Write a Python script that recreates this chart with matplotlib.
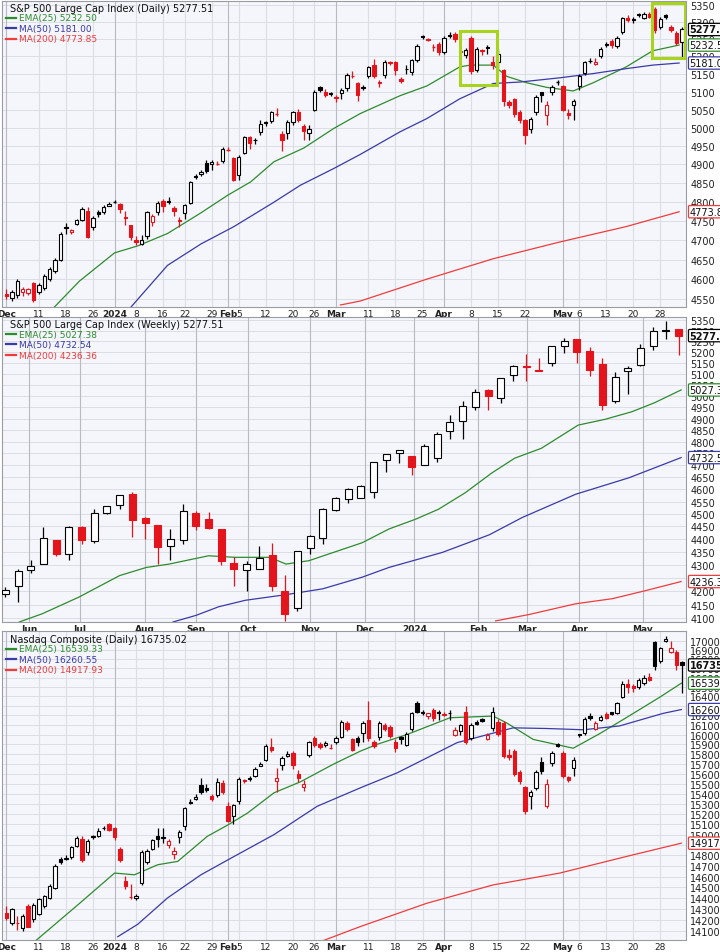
import matplotlib
matplotlib.use("Agg")
import matplotlib.pyplot as plt
import matplotlib.patches as mpatches
import numpy as np

# ---------------- S&P 500 daily (Dec 2023 - May 2024) ----------------
spx_o = [4562,4552,4560,4568,4566,4590,4567,4577,4600,4620,4650,4733,4722,4742,4753,4777,4733,4772,4772,4790,
         4800,4794,4760,4738,4700,4690,4710,4748,4772,4803,4803,4783,4752,4771,4798,4868,4873,4903,4900,4903,
         4908,4940,4917,4872,4930,4973,4967,4987,5015,5018,5040,4982,4985,5016,5044,5005,4984,5050,5112,5100,
         5096,5084,5096,5110,5145,5123,5113,5143,5175,5125,5148,5184,5184,5136,5165,5155,5190,5259,5250,5228,
         5236,5213,5261,5264,5212,5203,5252,5160,5218,5226,5185,5185,5160,5072,5080,5043,5021,4997,5043,5098,
         5035,5098,5128,5116,5040,5062,5115,5152,5188,5178,5200,5236,5245,5230,5270,5311,5308,5322,5312,5322,
         5338,5285,5320,5285,5266,5242]
spx_c = [4558,4567,4595,4575,4574,4547,4585,4608,4626,4650,4717,4731,4726,4751,4781,4708,4758,4769,4787,4795,
         4799,4780,4758,4708,4695,4700,4773,4763,4797,4790,4800,4775,4750,4791,4853,4866,4880,4882,4906,4902,
         4942,4939,4858,4921,4973,4958,4965,5009,5012,5042,5039,4967,5015,5044,5021,4991,4996,5100,5105,5090,
         5093,5082,5105,5148,5143,5091,5111,5169,5143,5128,5184,5180,5161,5131,5163,5189,5231,5255,5246,5227,
         5212,5254,5259,5250,5216,5218,5157,5220,5215,5224,5175,5207,5075,5062,5039,5021,4980,5025,5084,5090,
         5062,5114,5127,5048,5034,5075,5143,5184,5186,5184,5220,5234,5232,5252,5311,5305,5306,5320,5324,5315,
         5275,5307,5314,5275,5238,5277.51]
spx_h = [4575,4572,4600,4580,4578,4592,4590,4612,4630,4655,4720,4745,4730,4754,4786,4785,4762,4778,4792,4800,
         4806,4796,4775,4740,4710,4712,4776,4768,4802,4808,4812,4790,4760,4795,4855,4875,4884,4912,4911,4910,
         4946,4947,4920,4926,4978,4976,4972,5022,5018,5045,5053,4990,5022,5047,5052,5010,5008,5105,5115,5108,
         5100,5090,5110,5152,5157,5127,5118,5172,5192,5132,5190,5186,5188,5140,5175,5192,5235,5262,5252,5235,
         5240,5258,5270,5270,5225,5225,5258,5228,5222,5232,5200,5220,5165,5076,5082,5048,5025,5030,5090,5100,
         5075,5120,5133,5120,5052,5080,5150,5188,5195,5195,5228,5242,5250,5260,5315,5320,5315,5325,5328,5328,
         5343,5313,5323,5290,5272,5285]
spx_l = [4550,4545,4552,4558,4560,4543,4562,4572,4595,4615,4645,4715,4715,4738,4750,4705,4725,4760,4768,4788,
         4796,4770,4740,4700,4688,4688,4702,4737,4765,4772,4793,4763,4735,4755,4795,4860,4868,4877,4885,4898,
         4904,4935,4855,4858,4927,4942,4955,4980,5005,5012,5033,4935,4970,5006,5016,4965,4967,5045,5100,5085,
         5088,5072,5080,5103,5138,5075,5104,5138,5138,5112,5138,5175,5148,5125,5150,5148,5185,5250,5243,5215,
         5205,5208,5252,5240,5205,5195,5150,5155,5205,5208,5165,5168,5060,5055,5030,5012,4955,4985,5035,5070,
         5008,5090,5120,5045,5025,5020,5105,5148,5180,5175,5195,5228,5225,5225,5265,5298,5296,5315,5308,5310,
         5268,5280,5308,5270,5232,5198]
spx_ema_x = [8.3,13.5,20,24.3,29.8,36,40.9,45.2,49.5,55,60.6,65.5,72.9,77.8,83.9,85.8,90.1,92.6,96.3,100,104.9,108.6,114.7,119.6,124.5]
spx_ema_y = [4522,4595,4667,4685,4717,4771,4817,4853,4907,4944,4998,5039,5089,5116,5170,5175,5175,5143,5125,5112,5102,5125,5170,5216,5232.5]
spx_ma50_x = [22.4,29.8,36,42.1,49.5,54.4,60.6,65.5,72.9,77.8,83.9,90.1,95,102.4,108.6,114.7,119.6,124.5]
spx_ma50_y = [4520,4635,4690,4735,4799,4844,4889,4927,4989,5025,5080,5123,5127,5139,5151,5165,5175,5181]
spx_ma200_x = [61.8,65.5,77.8,90.1,102.4,114.7,124.5]
spx_ma200_y = [4535,4545,4600,4652,4695,4735,4773.85]

# ---------------- S&P 500 weekly (May 2023 - May 2024) ----------------
wk_o = [4190,4221,4280,4303,4396,4340,4446,4392,4505,4538,4582,4485,4456,4375,4396,4505,4479,4440,4306,4281,
        4285,4338,4202,4137,4364,4403,4516,4560,4565,4590,4722,4752,4738,4700,4731,4845,4889,4953,5025,4992,
        5095,5138,5118,5151,5228,5260,5207,5146,4979,5112,5142,5228,5303,5311]
wk_c = [4205,4278,4297,4406,4342,4446,4396,4503,4532,4577,4476,4462,4368,4400,4512,4453,4444,4316,4285,4303,
        4325,4221,4117,4355,4411,4520,4563,4601,4614,4713,4749,4766,4694,4780,4833,4885,4954,5020,5000,5082,
        5138,5130,5112,5229,5250,5200,5117,4960,5088,5128,5218,5299,5301,5277.51]
wk_h = [4215,4285,4320,4446,4396,4452,4452,4520,4532,4565,4590,4488,4445,4440,4540,4510,4507,4420,4330,4315,
        4372,4385,4260,4330,4416,4525,4570,4605,4620,4700,4730,4750,4720,4790,4840,4915,4980,5030,5030,5060,
        5140,5190,5175,5210,5265,5260,5225,5172,5110,5135,5240,5320,5345,5310]
wk_l = [4180,4160,4270,4303,4336,4320,4380,4386,4500,4522,4410,4400,4305,4320,4380,4435,4440,4300,4220,4202,
        4285,4202,4090,4128,4340,4380,4513,4545,4565,4565,4670,4710,4660,4700,4715,4810,4810,4940,4938,4968,
        5068,5068,5112,5136,5197,5152,5090,4940,4968,5010,5136,5210,5260,5186]
wk_ema_x = [1.1,2.9,5.8,9,11.1,12.9,16,18.1,20.8,22.1,23.9,28.1,30.2,32.3,34.1,36.2,38.3,40.1,42.2,45.1,47.2,49.3,51.1,53.2]
wk_ema_y = [4086,4116,4178,4259,4290,4303,4335,4329,4329,4303,4316,4386,4440,4479,4519,4586,4668,4730,4772,4872,4897,4930,4970,5027.38]
wk_ma50_x = [13.2,15,16.8,18.9,22.1,25,28.1,30.2,34.4,38.1,40.7,44.9,49.1,53.2]
wk_ma50_y = [4086,4110,4142,4166,4187,4209,4253,4290,4348,4417,4486,4580,4648,4732.54]
wk_ma200_x = [38.6,41.2,44.9,47.8,50.4,53.2]
wk_ma200_y = [4090,4113,4153,4172,4202,4236.36]

# ---------------- Nasdaq Composite daily ----------------
ndx_o = [14258,14170,14172,14122,14324,14210,14250,14330,14400,14490,14765,14770,14790,14890,14955,14830,14985,14990,15062,15100,
         15060,14860,14560,14412,14400,14540,14740,14860,14990,14975,14900,14810,14980,15080,15320,15350,15490,15460,15380,15390,
         15510,15280,15180,15330,15540,15560,15580,15680,15740,15870,15525,15690,15780,15810,15600,15470,15790,15970,15900,15890,
         15865,15920,15980,16120,15950,15960,16020,16150,15920,15980,16100,16080,15920,15980,15890,16060,16330,16220,16190,16260,
         16240,16212,16223,16000,16040,16230,15960,16130,16160,15950,16070,16130,16120,15790,15830,15615,15470,15375,15460,15720,
         15280,15710,15900,15810,15570,15660,16010,16020,16190,16060,16150,16215,16230,16220,16390,16530,16510,16500,16540,16610,
         16980,16780,16990,16880,16880,16770]
ndx_c = [14215,14296,14170,14230,14137,14335,14390,14415,14510,14700,14735,14780,14880,14970,14760,14940,14980,15040,15060,15050,
         14980,14760,14510,14410,14420,14830,14840,14950,14960,14970,14935,14845,15030,15260,15310,15370,15420,15440,15350,15520,
         15420,15130,15290,15550,15525,15545,15650,15700,15880,15840,15560,15760,15800,15690,15560,15500,15920,15890,15870,15910,
         15860,15960,16130,16060,15840,15920,16120,15960,15880,16120,16060,15990,15860,15950,16010,16220,16230,16240,16220,16170,
         16225,16208,16220,16050,16100,15920,16100,16110,16140,16000,16240,16010,15780,15770,15600,15530,15230,15420,15615,15630,
         15500,15810,15880,15580,15540,15740,15995,16160,16170,16120,16180,16175,16215,16330,16530,16500,16490,16570,16600,16570,
         16720,16915,17020,16920,16730,16735.02]
ndx_h = [14330,14310,14230,14250,14340,14350,14400,14430,14530,14720,14790,14800,14895,14985,14990,14960,15000,15060,15085,15110,
         15070,14880,14610,14530,14440,14850,14860,14960,15060,15060,14960,14880,15050,15270,15350,15400,15560,15500,15400,15560,
         15540,15320,15300,15570,15550,15575,15670,15720,15900,15970,15660,15780,15830,15830,15640,15540,15930,15990,15920,15930,
         15900,15990,16150,16140,15960,15990,16140,16350,15940,16140,16120,16100,15950,15990,16030,16240,16350,16260,16210,16280,
         16260,16240,16260,16080,16110,16300,16120,16150,16170,16020,16290,16160,16140,15850,15850,15640,15480,15440,15640,15770,
         15550,15830,15910,15830,15580,15770,16010,16180,16220,16140,16200,16240,16240,16340,16560,16580,16530,16590,16630,16650,
         17000,16930,17050,17000,16900,16780]
ndx_l = [14200,14150,14110,14100,14130,14180,14240,14310,14390,14480,14720,14760,14770,14880,14740,14800,14960,14980,15050,15040,
         14950,14740,14480,14390,14380,14520,14720,14850,14880,14920,14870,14770,14920,15050,15300,15340,15400,15420,15330,15370,
         15400,15120,15100,15300,15510,15530,15570,15680,15730,15820,15420,15640,15770,15650,15520,15430,15770,15870,15850,15870,
         15850,15900,15960,16040,15830,15880,15920,15930,15860,15940,16040,15960,15820,15900,15880,16040,16220,16200,16160,16140,
         16150,16190,16150,15990,16000,15900,15940,16100,16130,15940,16040,15990,15760,15740,15580,15500,15200,15250,15440,15600,
         15260,15680,15870,15560,15520,15580,15980,16000,16150,16050,16140,16160,16205,16210,16380,16430,16450,16480,16520,16560,
         16680,16760,16980,16860,16680,16440]
ndx_ema_x = [5.2,13.2,20,23.7,28,31.7,37.2,41,44.6,49.5,54.4,60.6,65.5,68.6,74.1,82.1,90.1,92.6,97.5,104.9,109.8,114.7,120.9,124.9]
ndx_ema_y = [14000,14336,14633,14617,14712,14744,14985,15095,15210,15410,15520,15700,15830,15900,16000,16175,16192,16120,15950,15860,16010,16175,16390,16539.33]
ndx_ma50_x = [20.6,24.3,29.8,36,42.1,49.5,57.5,65.5,72.3,83.4,93.8,100,106.8,113.5,121.5,124.9]
ndx_ma50_y = [14045,14158,14400,14617,14790,15000,15277,15460,15610,15917,16070,16063,16050,16090,16220,16260.55]
ndx_ma200_x = [58.1,65.5,77.8,90.1,102.4,114.7,124.9]
ndx_ma200_y = [14000,14137,14351,14522,14633,14790,14917.93]

# ---------------- axis labels ----------------
day_tick_idx = [0,6,11,16,20,24,29,33,38,41,43,48,53,57,61,67,72,77,81,86,91,96,103,106,111,116,121]
day_tick_lab = ["Dec","11","18","26","2024","8","16","22","29","Feb","5","12","20","26","Mar","11","18","25",
                "Apr","8","15","22","May","6","13","20","28"]
wk_tick_idx = [1.9,5.9,11,15,19.1,24,28.3,32.2,37.2,41.1,45.2,50.2]
wk_tick_lab = ["Jun","Jul","Aug","Sep","Oct","Nov","Dec","2024","Feb","Mar","Apr","May"]
months = {"Dec","2024","Feb","Mar","Apr","May","Jun","Jul","Aug","Sep","Oct","Nov"}

RED = "#e3141b"
GREEN = "#2e8b2e"
BLUE = "#3a3aa8"
MARED = "#f03c3c"
BG = "#f4f6fb"
GRID = "#dcdee6"
NARROW = ['Liberation Sans Narrow', 'DejaVu Sans']

plt.rcParams['font.family'] = ['DejaVu Sans']
fig = plt.figure(figsize=(7.2, 9.53), dpi=100)


def candles(ax, o, h, l, c, width):
    x = np.arange(len(c))
    for i in x:
        prev = c[i - 1] if i > 0 else o[i]
        col = "black" if c[i] >= prev else RED
        hollow = c[i] > o[i]
        ax.vlines(i, l[i], h[i], color=col, lw=0.9, zorder=3)
        lo, hi = min(o[i], c[i]), max(o[i], c[i])
        if hi - lo < 1.5:
            ax.hlines(c[i], i - width / 2, i + width / 2, color=col, lw=1.0, zorder=4)
        else:
            ax.bar(i, hi - lo, bottom=lo, width=width, facecolor="white" if hollow else col,
                   edgecolor=col, lw=0.8, zorder=4)


def style(ax, yticks, ylim, xlim, ticks_idx, ticks_lab):
    ax.set_facecolor(BG)
    ax.set_yscale("log")
    ax.set_ylim(*ylim)
    ax.set_xlim(*xlim)
    ax.yaxis.tick_right()
    ax.set_yticks(yticks)
    ax.set_yticklabels([str(v) for v in yticks], fontsize=7, family=NARROW)
    ax.yaxis.set_minor_locator(matplotlib.ticker.NullLocator())
    ax.tick_params(axis="y", length=0, pad=3, colors="#222")
    for v in yticks:
        ax.axhline(v, color=GRID, lw=0.7, zorder=0)
    for i, lab in zip(ticks_idx, ticks_lab):
        ax.axvline(i, color="#b8bac2" if lab in months else GRID, lw=0.8, zorder=0)
    ax.set_xticks(ticks_idx)
    ax.set_xticklabels(ticks_lab, fontsize=6.5)
    for t in ax.get_xticklabels():
        if t.get_text() in months:
            t.set_fontweight("bold")
    ax.tick_params(axis="x", length=0, pad=1.5, colors="#222")
    for s in ax.spines.values():
        s.set_color("#9a9ca4")
        s.set_linewidth(0.8)


def legend(ax, title, items):
    ax.text(0.012, 0.992, title, transform=ax.transAxes, fontsize=7,
            va="top", ha="left", color="#111")
    for k, (txt, col) in enumerate(items):
        y = 0.992 - 0.034 * (k + 1)
        ax.plot([0.006, 0.02], [y - 0.014, y - 0.014], transform=ax.transAxes, color=col, lw=1.6)
        ax.text(0.024, y, txt, transform=ax.transAxes, fontsize=6.5, va="top", ha="left", color=col)


def tag(ax, y, txt, col, bold=False):
    ax.annotate(txt, xy=(1.0, y), xycoords=("axes fraction", "data"), xytext=(2.5, 0),
                textcoords="offset points", fontsize=7, va="center", ha="left", family=NARROW,
                fontweight="bold" if bold else "normal", color="#111",
                bbox=dict(boxstyle="round,pad=0.12", fc="white", ec=col, lw=0.9), zorder=10,
                annotation_clip=False)


# ---- panel 1
ax1 = fig.add_axes([0.003, 0.6768, 0.950, 0.3215])
style(ax1, list(range(4550, 5351, 50)), (4530, 5362), (-0.8, 125.8), day_tick_idx, day_tick_lab)
ax1.plot(spx_ema_x, spx_ema_y, color=GREEN, lw=0.9, zorder=2)
ax1.plot(spx_ma50_x, spx_ma50_y, color=BLUE, lw=0.9, zorder=2)
ax1.plot(spx_ma200_x, spx_ma200_y, color=MARED, lw=0.9, zorder=2)
candles(ax1, spx_o, spx_h, spx_l, spx_c, 0.62)
for (x0, x1, y0, y1) in [(84.0, 90.8, 5119, 5273), (119.4, 125.6, 5195, 5354)]:
    ax1.add_patch(mpatches.Rectangle((x0, y0), x1 - x0, y1 - y0, fill=False, ec="#a8d41e", lw=2.2, zorder=6))
legend(ax1, "S&P 500 Large Cap Index (Daily) 5277.51",
       [("EMA(25) 5232.50", GREEN), ("MA(50) 5181.00", BLUE), ("MA(200) 4773.85", MARED)])
tag(ax1, 5277.51, "5277.51", "black", True)
tag(ax1, 5232.50, "5232.50", GREEN)
tag(ax1, 5181.00, "5181.00", BLUE)
tag(ax1, 4773.85, "4773.85", MARED)

# ---- panel 2
ax2 = fig.add_axes([0.003, 0.3463, 0.950, 0.3200])
style(ax2, list(range(4100, 5351, 50)), (4086, 5366), (-0.25, 53.6), wk_tick_idx, wk_tick_lab)
ax2.plot(wk_ema_x, wk_ema_y, color=GREEN, lw=0.9, zorder=2)
ax2.plot(wk_ma50_x, wk_ma50_y, color=BLUE, lw=0.9, zorder=2)
ax2.plot(wk_ma200_x, wk_ma200_y, color=MARED, lw=0.9, zorder=2)
candles(ax2, wk_o, wk_h, wk_l, wk_c, 0.55)
legend(ax2, "S&P 500 Large Cap Index (Weekly) 5277.51",
       [("EMA(25) 5027.38", GREEN), ("MA(50) 4732.54", BLUE), ("MA(200) 4236.36", MARED)])
tag(ax2, 5277.51, "5277.51", "black", True)
tag(ax2, 5027.38, "5027.38", GREEN)
tag(ax2, 4732.54, "4732.54", BLUE)
tag(ax2, 4236.36, "4236.36", MARED)

# ---- panel 3
ax3 = fig.add_axes([0.003, 0.0126, 0.950, 0.3240])
style(ax3, list(range(14100, 17001, 100)), (14015, 17103), (-0.8, 125.8), day_tick_idx, day_tick_lab)
ax3.plot(ndx_ema_x, ndx_ema_y, color=GREEN, lw=0.9, zorder=2)
ax3.plot(ndx_ma50_x, ndx_ma50_y, color=BLUE, lw=0.9, zorder=2)
ax3.plot(ndx_ma200_x, ndx_ma200_y, color=MARED, lw=0.9, zorder=2)
candles(ax3, ndx_o, ndx_h, ndx_l, ndx_c, 0.62)
legend(ax3, "Nasdaq Composite (Daily) 16735.02",
       [("EMA(25) 16539.33", GREEN), ("MA(50) 16260.55", BLUE), ("MA(200) 14917.93", MARED)])
tag(ax3, 16735.02, "16735.02", "black", True)
tag(ax3, 16539.33, "16539.33", GREEN)
tag(ax3, 16260.55, "16260.55", BLUE)
tag(ax3, 14917.93, "14917.93", MARED)

fig.savefig("out.png", dpi=100, facecolor="white")
